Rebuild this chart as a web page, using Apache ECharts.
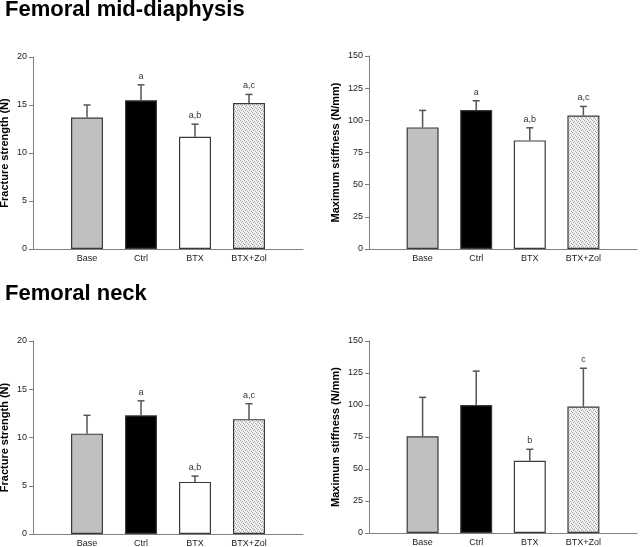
<!DOCTYPE html>
<html>
<head>
<meta charset="utf-8">
<script src="https://cdn.jsdelivr.net/npm/echarts@6/dist/echarts.min.js"></script>
<style>html,body{margin:0;padding:0;background:#fff}#c{width:640px;height:547px}</style>
</head>
<body>
<div id="c"></div>
<script>
// ---- data ----
const categories = ['Base', 'Ctrl', 'BTX', 'BTX+Zol'];
const panelTitles = ['Femoral mid-diaphysis', 'Femoral neck'];
const strengthName = 'Fracture strength (N)';
const stiffnessName = 'Maximum stiffness (N/mm)';

const fsMidMean = [13.7, 15.5, 11.7, 15.2];
const fsMidErr  = [15.0, 17.1, 13.0, 16.1];
const fsMidSig  = ['', 'a', 'a,b', 'a,c'];

const stMidMean = [94.5, 108, 84.4, 103.8];
const stMidErr  = [107.7, 115.2, 94.2, 110.8];
const stMidSig  = ['', 'a', 'a,b', 'a,c'];

const fsNeckMean = [10.4, 12.3, 5.4, 11.9];
const fsNeckErr  = [12.3, 13.8, 6.0, 13.5];
const fsNeckSig  = ['', 'a', 'a,b', 'a,c'];

const stNeckMean = [75.5, 100, 56.5, 98.8];
const stNeckErr  = [106, 126.5, 65.4, 128.7];
const stNeckSig  = ['', '', 'b', 'c'];

// ---- styling ----
const FONT = 'Liberation Sans, Arial, sans-serif';
function makePattern() {
  const c = document.createElement('canvas');
  c.width = 4; c.height = 4;
  const g = c.getContext('2d');
  g.fillStyle = '#ebebeb'; g.fillRect(0, 0, 4, 4);
  g.fillStyle = '#a8a8a8';
  [[0,0],[2,1],[1,2],[3,3]].forEach(function (p) { g.fillRect(p[0], p[1], 1, 1); });
  g.fillStyle = '#ffffff';
  [[2,3],[0,2],[3,0]].forEach(function (p) { g.fillRect(p[0], p[1], 1, 1); });
  return c;
}
const pattern = { image: makePattern(), repeat: 'repeat' };
const barColors = ['#c0c0c0', '#000000', '#ffffff', pattern];

const grids = [
  { left: 33, top: 57, width: 270, height: 192 },
  { left: 369, top: 56, width: 268, height: 193 },
  { left: 33, top: 341, width: 270, height: 193 },
  { left: 369, top: 341, width: 268, height: 192 }
].map(function (g) { return Object.assign({ outerBoundsMode: 'none', containLabel: false }, g); });

const panels = [
  { mean: fsMidMean, err: fsMidErr, sig: fsMidSig, max: 20, interval: 5, name: strengthName, gap: 23 },
  { mean: stMidMean, err: stMidErr, sig: stMidSig, max: 150, interval: 25, name: stiffnessName, gap: 28 },
  { mean: fsNeckMean, err: fsNeckErr, sig: fsNeckSig, max: 20, interval: 5, name: strengthName, gap: 23 },
  { mean: stNeckMean, err: stNeckErr, sig: stNeckSig, max: 150, interval: 25, name: stiffnessName, gap: 28 }
];

const xData = [''].concat(categories, ['']);
const xAxes = [], yAxes = [], series = [];
panels.forEach(function (p, i) {
  xAxes.push({
    type: 'category', gridIndex: i, data: xData, boundaryGap: false,
    axisLine: { lineStyle: { color: '#808080', width: 1 } },
    axisTick: { show: false },
    axisLabel: { color: '#222', fontSize: 9, fontFamily: FONT, margin: 5, interval: 0 },
    splitLine: { show: false }
  });
  yAxes.push({
    type: 'value', gridIndex: i, min: 0, max: p.max, interval: p.interval,
    name: p.name, nameLocation: 'middle', nameGap: p.gap,
    nameTextStyle: { fontSize: 11, fontWeight: 'bold', color: '#000', fontFamily: FONT },
    axisLine: { show: true, lineStyle: { color: '#808080', width: 1 } },
    axisTick: { show: true, length: 4, lineStyle: { color: '#808080' } },
    axisLabel: { color: '#222', fontSize: 9, fontFamily: FONT, margin: 6 },
    splitLine: { show: false }
  });
  const barData = ['-'].concat(p.mean.map(function (v, k) {
    return { value: v, itemStyle: { color: barColors[k], borderColor: '#3a3a3a', borderWidth: 1.2 } };
  }), ['-']);
  series.push({
    type: 'bar', xAxisIndex: i, yAxisIndex: i, data: barData, barWidth: 32,
    silent: true, animation: false, z: 2
  });
  const errData = p.mean.map(function (v, k) { return [k + 1, v, p.err[k]]; });
  series.push({
    type: 'custom', xAxisIndex: i, yAxisIndex: i, data: errData, animation: false, z: 3,
    encode: { x: 0, y: [1, 2] },
    renderItem: function (params, api) {
      const x = api.value(0);
      const top = api.coord([x, api.value(1)]);
      const hi = api.coord([x, api.value(2)]);
      const sig = p.sig[params.dataIndex];
      const children = [
        { type: 'line', shape: { x1: top[0], y1: top[1], x2: hi[0], y2: hi[1] }, style: { stroke: '#555', lineWidth: 1.5 } },
        { type: 'line', shape: { x1: hi[0] - 3.5, y1: hi[1], x2: hi[0] + 3.5, y2: hi[1] }, style: { stroke: '#555', lineWidth: 1.5 } }
      ];
      if (sig) {
        children.push({ type: 'text', x: hi[0], y: hi[1] - 4,
          style: { text: sig, align: 'center', verticalAlign: 'bottom', fontSize: 9, fontFamily: FONT, fill: '#333' } });
      }
      return { type: 'group', children: children };
    }
  });
});

const chart = echarts.init(document.getElementById('c'), null, { renderer: 'canvas' });
chart.setOption({
  backgroundColor: '#fff',
  animation: false,
  title: [
    { text: panelTitles[0], left: 5, top: -1, padding: 0, textStyle: { fontSize: 22, fontWeight: 'bold', color: '#000', fontFamily: FONT } },
    { text: panelTitles[1], left: 5, top: 282.5, padding: 0, textStyle: { fontSize: 22, fontWeight: 'bold', color: '#000', fontFamily: FONT } }
  ],
  grid: grids,
  xAxis: xAxes,
  yAxis: yAxes,
  series: series
});
</script>
</body>
</html>
